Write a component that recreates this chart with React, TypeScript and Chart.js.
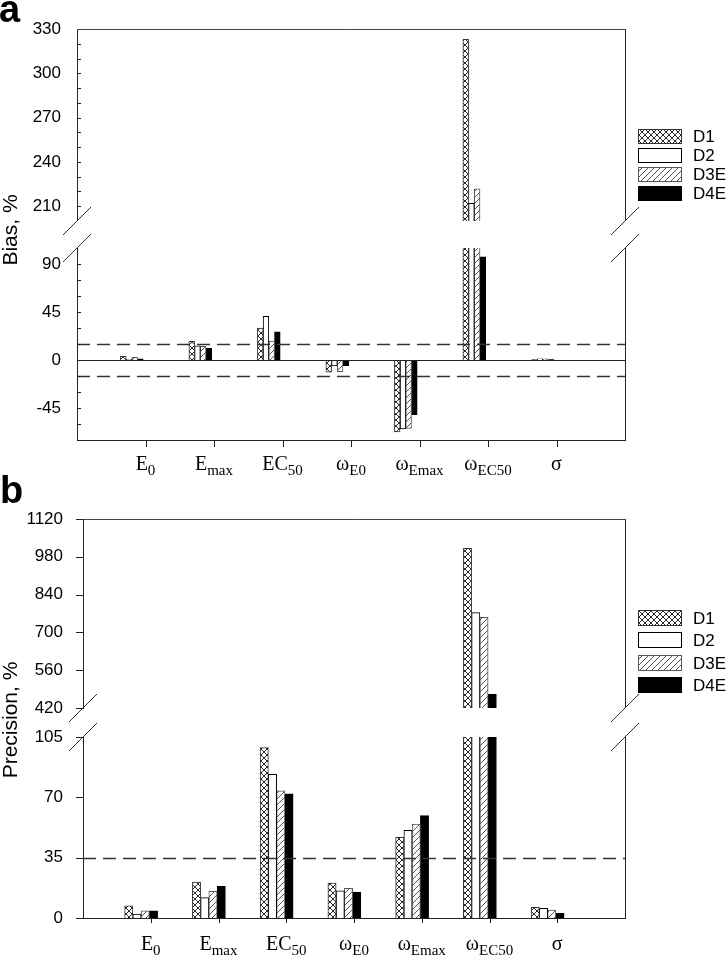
import React, { useEffect, useRef } from 'react';
import { Chart, registerables } from 'chart.js';
Chart.register(...registerables);

// ---------- data ----------
const seriesNames = ['D1', 'D2', 'D3E', 'D4E'];
const catMain = ['E', 'E', 'EC', 'ω', 'ω', 'ω', 'σ'];
const catSub = ['0', 'max', '50', 'E0', 'Emax', 'EC50', ''];

const biasD1 = [3.5, 17.4, 30, -11.5, -67.4, 323, 0.5];
const biasD2 = [0.7, 13.3, 41, -5.6, -64.6, 212, 1.2];
const biasD3E = [2.5, 12.7, 17.7, -10.9, -64.2, 221.7, 1.0];
const biasD4E = [1.2, 10.9, 26.5, -5.3, -51.2, 96.8, 0.5];

const precD1 = [7.1, 20.9, 98.8, 20.3, 46.8, 1011, 6.2];
const precD2 = [2.3, 11.8, 83.3, 15.7, 50.8, 773, 5.6];
const precD3E = [4.2, 15.5, 73.8, 17.2, 54.5, 756, 4.6];
const precD4E = [4.2, 18.4, 72.1, 15.1, 59.4, 471, 2.7];

const biasUpperRange = [200, 330];
const biasLowerRange = [-75, 105];
const precUpperRange = [420, 1120];
const precLowerRange = [0, 105];

const biasUpperLabels = [210, 240, 270, 300, 330];
const biasUpperMinor = [210, 220, 230, 240, 250, 260, 270, 280, 290, 300, 310, 320];
const biasLowerLabels = [-45, 0, 45, 90];
const biasLowerMinor = [-60, -45, -30, -15, 0, 15, 30, 45, 60, 75, 90];
const precUpperLabels = [420, 560, 700, 840, 980, 1120];
const precLowerLabels = [0, 35, 70, 105];
const biasRefLines = [15, -15];
const precRefLines = [35];

const SANS = '"Liberation Sans", Arial, Helvetica, sans-serif';
const SERIF = '"Liberation Serif", "Times New Roman", Times, serif';

function makePattern(kind: string): CanvasPattern | string {
  const c = document.createElement('canvas');
  const s = 6;
  c.width = s;
  c.height = s;
  const g = c.getContext('2d')!;
  g.fillStyle = '#ffffff';
  g.fillRect(0, 0, s, s);
  g.strokeStyle = kind === 'cross' ? '#2a2a2a' : '#555555';
  g.lineWidth = 1;
  g.beginPath();
  g.moveTo(-1, s + 1);
  g.lineTo(s + 1, -1);
  g.moveTo(-1, 1);
  g.lineTo(1, -1);
  g.moveTo(s - 1, s + 1);
  g.lineTo(s + 1, s - 1);
  if (kind === 'cross') {
    g.moveTo(-1, -1);
    g.lineTo(s + 1, s + 1);
    g.moveTo(s - 1, -1);
    g.lineTo(s + 1, 1);
    g.moveTo(-1, s - 1);
    g.lineTo(1, s + 1);
  }
  g.stroke();
  return g.createPattern(c, 'repeat') || '#888';
}

type Cfg = {
  values: number[][];
  range: number[];
  labels: number[];
  minor: number[];
  tickDir: number;
  tickLen: number;
  labelPad: number;
  padTop: number;
  padBottom: number;
  yWidth: number;
  showX: boolean;
  xHeight: number;
  shift: number;
  thickness: number;
  offsetTop: number;
  zeroLine?: boolean;
  dashed?: number[];
  frameTop?: boolean;
  legend?: { ys: number[]; boxH: number };
  letter?: { text: string; x: number; y: number };
  title?: { text: string; x: number; y: number };
  slashes?: { ys: number[] };
  xLabelBase?: number;
  xTickLen?: number;
  fills: (CanvasPattern | string)[];
  borders: string[];
};

function drawCatLabel(ctx: CanvasRenderingContext2D, x: number, y: number, main: string, sub: string) {
  const mf = `20px ${SERIF}`;
  const sf = `15px ${SERIF}`;
  ctx.font = mf;
  const wm = ctx.measureText(main).width;
  ctx.font = sf;
  const ws = sub ? ctx.measureText(sub).width : 0;
  const x0 = x - (wm + ws) / 2;
  ctx.textAlign = 'left';
  ctx.textBaseline = 'alphabetic';
  ctx.fillStyle = '#000';
  ctx.font = mf;
  ctx.fillText(main, x0, y);
  if (sub) {
    ctx.font = sf;
    ctx.fillText(sub, x0 + wm, y + 5);
  }
}

function makeChart(canvas: HTMLCanvasElement, cfg: Cfg) {
  const W = 728;
  const datasets = seriesNames.map((name, si) => ({
    label: name,
    data: cfg.values[si].map((v, ci) => ({ x: ci + 1 + cfg.shift, y: v })),
    backgroundColor: cfg.fills[si],
    borderColor: cfg.borders[si],
    borderWidth: 1,
    barThickness: cfg.thickness,
    clip: 0,
  }));

  const plugin = {
    id: 'panelDeco',
    afterDatasetsDraw(chart: any) {
      const ctx = chart.ctx as CanvasRenderingContext2D;
      const ca = chart.chartArea;
      const ys = chart.scales.y;
      ctx.save();
      ctx.beginPath();
      ctx.rect(ca.left, ca.top, ca.right - ca.left, ca.bottom - ca.top);
      ctx.clip();
      if (cfg.zeroLine) {
        const py = Math.round(ys.getPixelForValue(0)) + 0.5;
        ctx.strokeStyle = '#222';
        ctx.lineWidth = 1;
        ctx.beginPath();
        ctx.moveTo(ca.left, py);
        ctx.lineTo(ca.right, py);
        ctx.stroke();
      }
      (cfg.dashed || []).forEach((v) => {
        const py = Math.round(ys.getPixelForValue(v)) + 0.5;
        ctx.strokeStyle = '#333';
        ctx.lineWidth = 1.3;
        ctx.setLineDash([13, 7]);
        ctx.beginPath();
        ctx.moveTo(ca.left, py);
        ctx.lineTo(ca.right, py);
        ctx.stroke();
      });
      ctx.restore();
    },
    afterDraw(chart: any) {
      const ctx = chart.ctx as CanvasRenderingContext2D;
      const ca = chart.chartArea;
      const ys = chart.scales.y;
      const xs = chart.scales.x;
      ctx.save();
      ctx.strokeStyle = '#222';
      ctx.lineWidth = 1;
      // y ticks
      cfg.minor.forEach((v) => {
        const py = Math.round(ys.getPixelForValue(v)) + 0.5;
        ctx.beginPath();
        ctx.moveTo(ca.left, py);
        ctx.lineTo(ca.left + cfg.tickDir * cfg.tickLen, py);
        ctx.stroke();
      });
      // right frame
      const rx = Math.round(ca.right) + 0.5;
      ctx.beginPath();
      ctx.moveTo(rx, ca.top);
      ctx.lineTo(rx, ca.bottom);
      ctx.stroke();
      if (cfg.frameTop) {
        const ty = Math.round(ca.top) + 0.5;
        ctx.strokeStyle = '#444';
        ctx.beginPath();
        ctx.moveTo(ca.left, ty);
        ctx.lineTo(ca.right + 0.5, ty);
        ctx.stroke();
        ctx.strokeStyle = '#222';
      }
      // x ticks + labels
      if (cfg.showX) {
        for (let k = 1; k <= catMain.length; k++) {
          const px = Math.round(xs.getPixelForValue(k)) + 0.5;
          if (cfg.xTickLen) {
            ctx.beginPath();
            ctx.moveTo(px, ca.bottom);
            ctx.lineTo(px, ca.bottom + cfg.xTickLen);
            ctx.stroke();
          }
          drawCatLabel(ctx, xs.getPixelForValue(k), (cfg.xLabelBase || 0) - cfg.offsetTop, catMain[k - 1], catSub[k - 1]);
        }
      }
      // break slashes
      if (cfg.slashes) {
        ctx.strokeStyle = '#333';
        ctx.lineWidth = 1;
        [ca.left, ca.right].forEach((ax) => {
          cfg.slashes!.ys.forEach((yy) => {
            const cy = yy - cfg.offsetTop;
            ctx.beginPath();
            ctx.moveTo(ax - 14, cy + 14);
            ctx.lineTo(ax + 14, cy - 14);
            ctx.stroke();
          });
        });
      }
      // legend
      if (cfg.legend) {
        const lg = cfg.legend;
        lg.ys.forEach((yy, i) => {
          const cy = yy - cfg.offsetTop;
          const bx = 638;
          const bw = 44;
          const by = Math.round(cy - lg.boxH / 2);
          ctx.fillStyle = cfg.fills[i] as any;
          ctx.fillRect(bx, by, bw, lg.boxH);
          ctx.strokeStyle = cfg.borders[i];
          ctx.lineWidth = 1;
          ctx.strokeRect(bx + 0.5, by + 0.5, bw - 1, lg.boxH - 1);
          ctx.fillStyle = '#000';
          ctx.font = `17px ${SANS}`;
          ctx.textAlign = 'left';
          ctx.textBaseline = 'middle';
          ctx.fillText(seriesNames[i], 693, cy + 1);
        });
      }
      if (cfg.letter) {
        ctx.fillStyle = '#000';
        ctx.font = `bold 38px ${SANS}`;
        ctx.textAlign = 'left';
        ctx.textBaseline = 'alphabetic';
        ctx.fillText(cfg.letter.text, cfg.letter.x, cfg.letter.y - cfg.offsetTop);
      }
      if (cfg.title) {
        ctx.save();
        ctx.fillStyle = '#000';
        ctx.font = `21px ${SANS}`;
        ctx.translate(cfg.title.x, cfg.title.y - cfg.offsetTop);
        ctx.rotate(-Math.PI / 2);
        ctx.textAlign = 'center';
        ctx.textBaseline = 'middle';
        ctx.fillText(cfg.title.text, 0, 0);
        ctx.restore();
      }
      ctx.restore();
    },
  };

  return new Chart(canvas, {
    type: 'bar',
    data: { datasets: datasets as any },
    options: {
      responsive: false,
      maintainAspectRatio: false,
      animation: false,
      devicePixelRatio: 1,
      layout: { padding: { top: cfg.padTop, right: W - 625, bottom: cfg.padBottom, left: 0 } },
      plugins: { legend: { display: false }, tooltip: { enabled: false } },
      scales: {
        x: {
          type: 'linear',
          min: 0,
          max: 8,
          offset: false,
          display: cfg.showX,
          grid: { display: false, drawTicks: false, offset: false },
          ticks: { display: false },
          border: { display: true, color: '#222', width: 1 },
          afterFit: (s: any) => {
            s.height = cfg.xHeight;
            s.paddingLeft = 0;
            s.paddingRight = 0;
          },
        },
        y: {
          type: 'linear',
          min: cfg.range[0],
          max: cfg.range[1],
          afterBuildTicks: (s: any) => {
            s.ticks = cfg.labels.map((v) => ({ value: v }));
          },
          ticks: {
            autoSkip: false,
            padding: cfg.labelPad,
            color: '#000',
            font: { family: SANS, size: 17 },
            callback: (v: any) => String(v),
          },
          grid: { display: false, drawTicks: false, tickLength: 0 },
          border: { display: true, color: '#222', width: 1 },
          afterFit: (s: any) => {
            s.width = cfg.yWidth;
            s.paddingTop = 0;
            s.paddingBottom = 0;
          },
        },
      },
    } as any,
    plugins: [plugin as any],
  });
}

export default function App() {
  const aTop = useRef<HTMLCanvasElement>(null);
  const aBot = useRef<HTMLCanvasElement>(null);
  const bTop = useRef<HTMLCanvasElement>(null);
  const bBot = useRef<HTMLCanvasElement>(null);

  useEffect(() => {
    document.body.style.margin = '0';
    const fills = [makePattern('cross'), '#ffffff', makePattern('hatch'), '#000000'];
    const borders = ['#333333', '#000000', '#555555', '#000000'];
    const biasVals = [biasD1, biasD2, biasD3E, biasD4E];
    const precVals = [precD1, precD2, precD3E, precD4E];
    const common = { fills, borders };

    const charts = [
      makeChart(aTop.current!, {
        ...common,
        values: biasVals,
        range: biasUpperRange,
        labels: biasUpperLabels,
        minor: biasUpperMinor,
        tickDir: 1,
        tickLen: 4,
        labelPad: 16,
        padTop: 29,
        padBottom: 0,
        yWidth: 77,
        showX: false,
        xHeight: 0,
        shift: -0.2,
        thickness: 5.7,
        offsetTop: 0,
        frameTop: true,
        legend: { ys: [136, 155, 174, 193], boxH: 15 },
      }),
      makeChart(aBot.current!, {
        ...common,
        values: biasVals,
        range: biasLowerRange,
        labels: biasLowerLabels,
        minor: biasLowerMinor,
        tickDir: 1,
        tickLen: 4,
        labelPad: 16,
        padTop: 248,
        padBottom: 0,
        yWidth: 77,
        showX: true,
        xHeight: 60,
        shift: -0.2,
        thickness: 5.7,
        offsetTop: 0,
        zeroLine: true,
        dashed: biasRefLines,
        letter: { text: 'a', x: -1, y: 22 },
        title: { text: 'Bias, %', x: 11, y: 230 },
        slashes: { ys: [221, 248] },
        xLabelBase: 470,
        xTickLen: 7,
      }),
      makeChart(bTop.current!, {
        ...common,
        values: precVals,
        range: precUpperRange,
        labels: precUpperLabels,
        minor: precUpperLabels,
        tickDir: -1,
        tickLen: 7,
        labelPad: 20,
        padTop: 19,
        padBottom: 20,
        yWidth: 83,
        showX: false,
        xHeight: 0,
        shift: -0.142,
        thickness: 8.25,
        offsetTop: 500,
        frameTop: true,
        legend: { ys: [618, 640, 663, 685], boxH: 16 },
      }),
      makeChart(bBot.current!, {
        ...common,
        values: precVals,
        range: precLowerRange,
        labels: precLowerLabels,
        minor: precLowerLabels,
        tickDir: -1,
        tickLen: 7,
        labelPad: 20,
        padTop: 267,
        padBottom: 0,
        yWidth: 83,
        showX: true,
        xHeight: 38,
        shift: -0.142,
        thickness: 8.25,
        offsetTop: 470,
        dashed: precRefLines,
        letter: { text: 'b', x: 0, y: 503 },
        title: { text: 'Precision, %', x: 11, y: 720 },
        slashes: { ys: [708, 737] },
        xLabelBase: 950,
        xTickLen: 5,
      }),
    ];
    return () => charts.forEach((c) => c.destroy());
  }, []);

  const cs = (top: number, h: number): React.CSSProperties => ({
    position: 'absolute',
    left: 0,
    top,
    width: 728,
    height: h,
  });

  return (
    <div style={{ position: 'absolute', left: 0, top: 0, width: 728, height: 956, background: '#ffffff', overflow: 'hidden' }}>
      <canvas ref={aTop} width={728} height={221} style={cs(0, 221)} />
      <canvas ref={aBot} width={728} height={500} style={cs(0, 500)} />
      <canvas ref={bTop} width={728} height={228} style={cs(500, 228)} />
      <canvas ref={bBot} width={728} height={486} style={cs(470, 486)} />
    </div>
  );
}
